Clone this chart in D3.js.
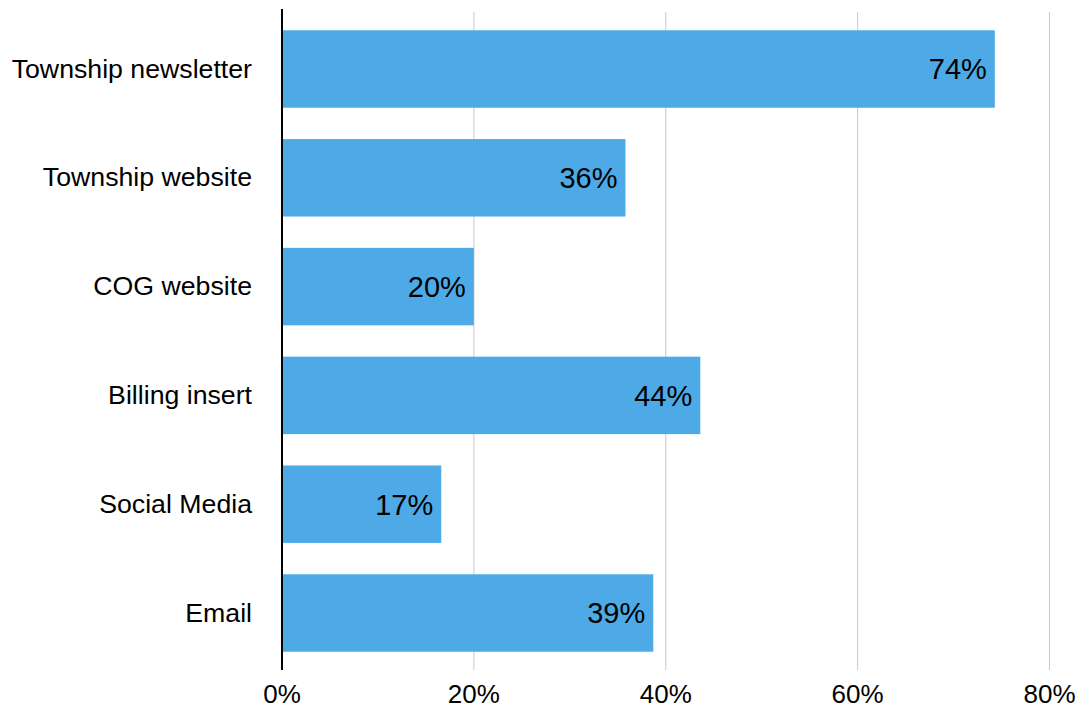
<!DOCTYPE html>
<html>
<head>
<meta charset="utf-8">
<script src="https://cdn.jsdelivr.net/npm/d3@7"></script>
<style>
  body { margin: 0; background: #fff; }
  text { font-family: "Liberation Sans", Arial, Helvetica, sans-serif; fill: #000; }
</style>
</head>
<body>
<svg id="chart" width="1081" height="708"></svg>
<script>
const categories = ["Township newsletter", "Township website", "COG website", "Billing insert", "Social Media", "Email"];
const values = [74.3, 35.8, 20.0, 43.6, 16.6, 38.7];
const valueLabels = ["74%", "36%", "20%", "44%", "17%", "39%"];
const xTicks = [0, 20, 40, 60, 80];
const xTickLabels = ["0%", "20%", "40%", "60%", "80%"];

const svg = d3.select("#chart");
const plotLeft = 282, plotRight = 1049.5, plotTop = 11, plotBottom = 671;

const x = d3.scaleLinear().domain([0, 80]).range([plotLeft, plotRight]);
const y = d3.scaleBand().domain(categories).range([plotTop, plotBottom])
  .paddingInner(0.288).paddingOuter(0.177);

// gridlines
svg.append("g").selectAll("line").data(xTicks.filter(d => d > 0)).join("line")
  .attr("x1", d => x(d)).attr("x2", d => x(d))
  .attr("y1", 12).attr("y2", 670)
  .attr("stroke", "#c8c8c8").attr("stroke-width", 1);

// bars
svg.append("g").selectAll("rect").data(categories).join("rect")
  .attr("x", x(0))
  .attr("y", d => y(d))
  .attr("width", (d, i) => x(values[i]) - x(0))
  .attr("height", y.bandwidth())
  .attr("fill", "#4DAAE7");

// value labels
svg.append("g").selectAll("text").data(categories).join("text")
  .attr("x", (d, i) => x(values[i]) - 8)
  .attr("y", d => y(d) + y.bandwidth() / 2)
  .attr("dy", "0.36em")
  .attr("text-anchor", "end")
  .style("font-size", "29px")
  .text((d, i) => valueLabels[i]);

// category labels
svg.append("g").selectAll("text").data(categories).join("text")
  .attr("x", plotLeft - 30)
  .attr("y", d => y(d) + y.bandwidth() / 2)
  .attr("dy", "0.32em")
  .attr("text-anchor", "end")
  .style("font-size", "26.7px")
  .text(d => d);

// x tick labels
svg.append("g").selectAll("text").data(xTicks).join("text")
  .attr("x", d => x(d))
  .attr("y", 703)
  .attr("text-anchor", "middle")
  .style("font-size", "26px")
  .text((d, i) => xTickLabels[i]);

// vertical axis line
svg.append("line")
  .attr("x1", plotLeft).attr("x2", plotLeft)
  .attr("y1", 9).attr("y2", 670)
  .attr("stroke", "#000").attr("stroke-width", 2);
</script>
</body>
</html>
